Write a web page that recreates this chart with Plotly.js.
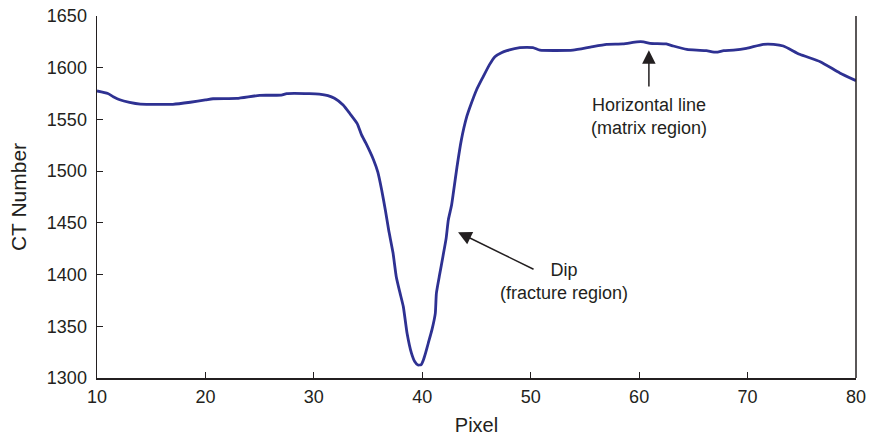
<!DOCTYPE html>
<html><head><meta charset="utf-8">
<script src="https://cdn.plot.ly/plotly-3.0.1.min.js"></script>
<style>html,body{margin:0;padding:0;background:#fff}#chart{width:869px;height:437px}</style>
</head><body><div id="chart"></div>
<script>
const pixel = [10, 11, 11.5, 12.1, 13, 14, 15, 17, 18.6, 20, 20.7, 22.9, 25, 27, 27.5, 29.6, 30.5, 31.3, 31.9, 32.7, 33.3, 34.0, 34.4, 34.8, 35.5, 35.9, 36.25, 36.6, 36.9, 37.3, 37.6, 37.95, 38.25, 38.6, 39.0, 39.3, 39.6, 39.9, 40.1, 40.3, 40.55, 40.9, 41.2, 41.3, 41.6, 41.9, 42.2, 42.4, 42.7, 42.86, 43.2, 43.6, 44.1, 44.4, 45.0, 45.6, 46.2, 46.7, 47.3, 47.8, 49.0, 50.2, 50.85, 53.9, 55.5, 57.0, 58.5, 59.8, 60.4, 61.0, 62.5, 63.15, 64.4, 65.3, 66.2, 67.1, 67.8, 68.7, 69.9, 71.45, 72.4, 73.3, 74.8, 76.7, 78.5, 80];
const ctNumber = [1577.5, 1575, 1572, 1569, 1566.5, 1564.8, 1564.6, 1564.6, 1566.6, 1568.8, 1570, 1570.3, 1573.3, 1573.5, 1575, 1575, 1574.5, 1573, 1570.4, 1564, 1556, 1546, 1535, 1527, 1511, 1499, 1482, 1462, 1443, 1421, 1398, 1382, 1369, 1343, 1324, 1316, 1312.6, 1313, 1317.4, 1324, 1333.6, 1347, 1362.5, 1381.9, 1400, 1417.3, 1435, 1452.8, 1467, 1478.6, 1504, 1530, 1552.6, 1562, 1578.5, 1591, 1603, 1610.7, 1614.5, 1616.5, 1619.4, 1619.4, 1617, 1617, 1620, 1622.6, 1623, 1625, 1625, 1623.6, 1623, 1621, 1617.8, 1617, 1616.5, 1615, 1616.5, 1617, 1618.7, 1622.6, 1622.6, 1621, 1613, 1605.8, 1595, 1587.5];
const xTicks = [10, 20, 30, 40, 50, 60, 70, 80];
const yTicks = [1300, 1350, 1400, 1450, 1500, 1550, 1600, 1650];

const font = {family: 'Liberation Sans, Arial, sans-serif', color: '#231f20'};
const f = s => Object.assign({size: s}, font);
const trace = {x: pixel, y: ctNumber, type: 'scatter', mode: 'lines',
  line: {color: '#2e3192', width: 2.8, shape: 'spline', smoothing: 0.5}, hoverinfo: 'skip'};
const layout = {
  width: 869, height: 437,
  margin: {l: 97, r: 13, t: 16, b: 59},
  paper_bgcolor: '#fff', plot_bgcolor: '#fff',
  showlegend: false,
  font: f(18),
  xaxis: {range: [10, 80], tickvals: xTicks, ticktext: xTicks.map(String),
    showgrid: false, zeroline: false, showline: true, linecolor: '#231f20', linewidth: 1.5,
    ticks: 'inside', ticklen: 6, tickcolor: '#231f20', tickwidth: 1,
    tickfont: f(18), ticklabelstandoff: 2,
    title: {text: 'Pixel', font: f(20), standoff: 12}},
  yaxis: {range: [1300, 1650], tickvals: yTicks, ticktext: yTicks.map(String),
    showgrid: false, zeroline: false, showline: true, linecolor: '#231f20', linewidth: 1.5,
    ticks: 'inside', ticklen: 6, tickcolor: '#231f20', tickwidth: 1,
    tickfont: f(18), ticklabelstandoff: 5,
    title: {text: 'CT Number', font: f(21), standoff: 14}},
  shapes: [{type: 'line', xref: 'paper', yref: 'paper', x0: 1, x1: 1, y0: 0, y1: 1,
    line: {color: '#231f20', width: 1.5}}],
  annotations: [
    {x: 60.9, y: 1617, ax: 60.9, ay: 1580.4, xref: 'x', yref: 'y', axref: 'x', ayref: 'y',
     text: '', showarrow: true, arrowhead: 2, arrowsize: 1.8, arrowwidth: 1.5, arrowcolor: '#231f20'},
    {x: 60.9, y: 1576, xref: 'x', yref: 'y', showarrow: false, yanchor: 'top',
     text: 'Horizontal line<br>(matrix region)', font: f(18), align: 'center'},
    {x: 43.3, y: 1441, ax: 50.4, ay: 1404.4, xref: 'x', yref: 'y', axref: 'x', ayref: 'y',
     text: '', showarrow: true, arrowhead: 2, arrowsize: 1.8, arrowwidth: 1.5, arrowcolor: '#231f20'},
    {x: 53.1, y: 1416, xref: 'x', yref: 'y', showarrow: false, yanchor: 'top',
     text: 'Dip<br>(fracture region)', font: f(18), align: 'center'}
  ]
};
Plotly.newPlot('chart', [trace], layout, {displayModeBar: false, staticPlot: true});
</script></body></html>
